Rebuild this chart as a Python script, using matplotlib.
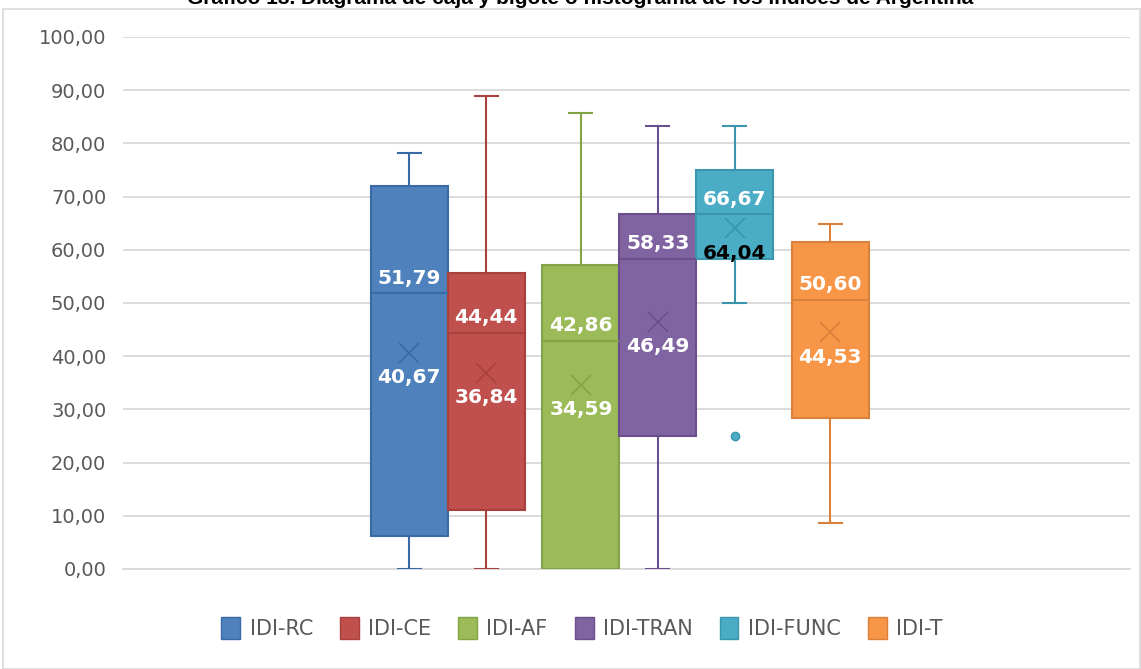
import numpy as np
import matplotlib.pyplot as plt
from matplotlib.patches import Patch, Rectangle

# Datos (índices de Argentina)
series = ['IDI-RC', 'IDI-CE', 'IDI-AF', 'IDI-TRAN', 'IDI-FUNC', 'IDI-T']
minimo = [0.00, 0.00, 0.00, 0.00, 50.00, 8.60]
q1 = [6.20, 11.10, 0.00, 25.00, 58.33, 28.40]
mediana = [51.79, 44.44, 42.86, 58.33, 66.67, 50.60]
q3 = [72.00, 55.60, 57.10, 66.67, 75.00, 61.50]
maximo = [78.20, 88.90, 85.70, 83.33, 83.33, 64.80]
media = [40.67, 36.84, 34.59, 46.49, 64.04, 44.53]
atipicos = [[], [], [], [], [25.00], []]

colores = ['#4f81bd', '#c0504d', '#9bbb59', '#8064a2', '#4bacc6', '#f79646']
bordes = ['#3a6aa5', '#a8403d', '#83a347', '#6a4f8c', '#3a95ad', '#d9813a']
color_media_txt = ['white', 'white', 'white', 'white', 'black', 'white']

posiciones = [3.72, 4.72, 5.95, 6.95, 7.95, 9.19]

fig = plt.figure(figsize=(11.41, 6.69), dpi=100)
ax = fig.add_axes([0.1078, 0.1495, 0.8822, 0.7952])

stats = []
for i in range(len(series)):
    stats.append(dict(med=mediana[i], q1=q1[i], q3=q3[i], whislo=minimo[i],
                      whishi=maximo[i], mean=media[i], fliers=atipicos[i],
                      label=series[i]))

for i, st in enumerate(stats):
    ax.bxp([st], positions=[posiciones[i]], widths=1.0, capwidths=0.3, patch_artist=True,
           showmeans=True, showfliers=True,
           boxprops=dict(facecolor=colores[i], edgecolor=bordes[i], lw=1.5),
           medianprops=dict(color=bordes[i], lw=1.5),
           whiskerprops=dict(color=bordes[i], lw=1.5),
           capprops=dict(color=bordes[i], lw=1.5),
           meanprops=dict(marker='x', markeredgecolor=bordes[i], markersize=14, mew=1.2),
           flierprops=dict(marker='o', markerfacecolor=colores[i], markeredgecolor=bordes[i],
                           markersize=6),
           zorder=3)
    x = posiciones[i]
    ax.annotate(f'{mediana[i]:.2f}'.replace('.', ','), (x, mediana[i]),
                xytext=(0, 4), textcoords='offset points', ha='center', va='bottom',
                color='white', fontsize=14.5, fontweight='bold', zorder=5)
    ax.annotate(f'{media[i]:.2f}'.replace('.', ','), (x, media[i]),
                xytext=(0, -18), textcoords='offset points', ha='center', va='center',
                color=color_media_txt[i], fontsize=14.5, fontweight='bold', zorder=5)

ax.set_xlim(0, 13.08)
ax.set_ylim(0, 100)
ax.set_yticks(np.arange(0, 101, 10))
ax.set_yticklabels([f'{v:.2f}'.replace('.', ',') for v in np.arange(0, 101, 10)],
                   fontsize=14, color='#595959')
ax.set_xticks([])
ax.yaxis.grid(True, color='#d9d9d9', lw=1.3)
ax.set_axisbelow(True)
for s in ['top', 'right', 'left']:
    ax.spines[s].set_visible(False)
ax.spines['bottom'].set_color('#d9d9d9')
ax.spines['bottom'].set_linewidth(1.3)
ax.tick_params(axis='y', length=0, pad=12)

handles = [Patch(facecolor=colores[i], edgecolor=bordes[i], label=series[i]) for i in range(len(series))]
fig.legend(handles=handles, loc='center', bbox_to_anchor=(0.51, 0.061), ncol=6,
           frameon=False, fontsize=15, labelcolor='#595959', handlelength=0.9,
           handleheight=1.2, handletextpad=0.45, columnspacing=1.3)

fig.patches.append(Rectangle((0.003, 0.0), 0.996, 0.986, transform=fig.transFigure,
                             fill=False, edgecolor='#d9d9d9', lw=1.2))
fig.text(0.508, 0.994, 'Gráfico 13. Diagrama de caja y bigote o histograma de los índices de Argentina',
         ha='center', va='baseline', fontsize=15, fontweight='bold', family='Liberation Sans')

fig.savefig('out.png', dpi=100)
